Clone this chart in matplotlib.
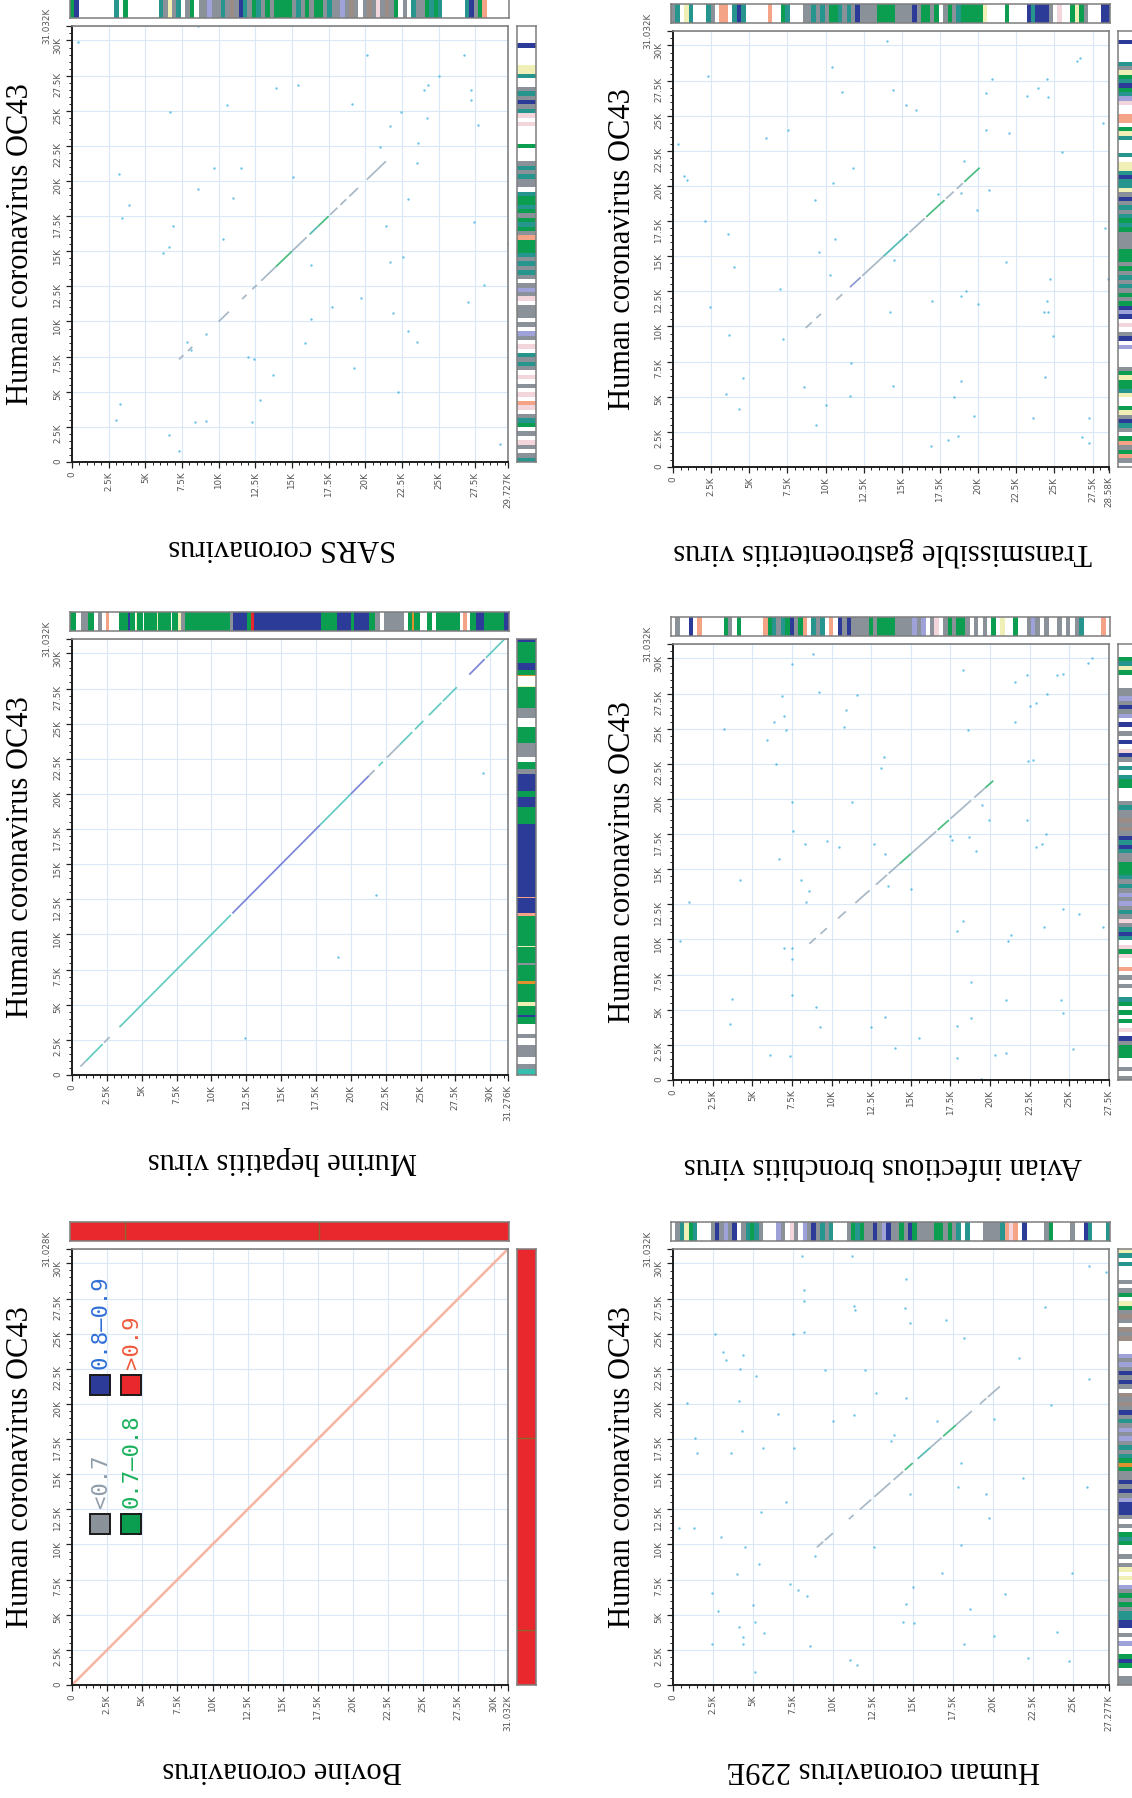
import matplotlib
matplotlib.use("Agg")
import matplotlib.pyplot as plt
from matplotlib.patches import Rectangle
from matplotlib.ticker import MultipleLocator, FixedLocator, FixedFormatter

FIG_W, FIG_H = 1132, 1798
BOX = 436  # plot square, px

# ---------------- data (all positions in K bases) ----------------
panel_names = ["SARS coronavirus", "Transmissible gastroenteritis virus",
               "Murine hepatitis virus", "Avian infectious bronchitis virus",
               "Bovine coronavirus", "Human coronavirus 229E"]
panel_xlen = [29.727, 28.58, 31.276, 27.5, 31.032, 27.277]
panel_ylen = [31.032, 31.032, 31.032, 31.032, 31.028, 31.032]
y_label = "Human coronavirus OC43"

# diagonal pieces: (start, end, colour) along x, y = x + offset
sars_diag = [(7.3, 7.6, 'G'), (7.9, 8.2, 'G'), (10.0, 10.7, 'G'), (11.6, 11.9, 'G'),
             (12.3, 12.6, 'G'), (12.9, 13.9, 'G'), (13.9, 15.0, 'g'), (15.0, 16.0, 'G'),
             (16.2, 16.8, 't'), (16.8, 17.5, 'g'), (17.6, 18.1, 'G'), (18.3, 18.7, 'G'),
             (18.9, 19.5, 'G'), (20.1, 20.6, 'G'), (20.6, 21.4, 'G')]
tgev_diag = [(8.7, 9.1, 'G'), (9.4, 9.7, 'G'), (10.7, 11.1, 'G'), (11.6, 12.3, 'b'),
             (12.4, 13.8, 'G'), (13.8, 15.4, 't'), (15.5, 16.5, 'G'), (16.6, 17.8, 'g'),
             (17.9, 18.4, 'G'), (18.6, 19.0, 'G'), (19.1, 20.1, 'g')]
murine_diag = [(0.6, 1.0, 'G'), (1.0, 2.2, 'c'), (2.3, 2.7, 'G'), (3.4, 11.4, 'c'),
               (11.5, 17.8, 'B'), (17.8, 20.0, 'c'), (20.0, 21.3, 'B'), (21.3, 21.7, 'G'),
               (22.0, 22.3, 'c'), (22.6, 23.5, 'G'), (23.5, 24.4, 'c'), (24.6, 25.2, 'c'),
               (25.6, 26.5, 'c'), (26.6, 27.6, 'c'), (28.5, 29.6, 'B'), (29.7, 31.1, 'c')]
avian_diag = [(8.6, 9.0, 'G'), (9.3, 9.7, 'G'), (10.4, 10.9, 'G'), (11.5, 12.4, 'G'),
              (12.8, 13.5, 'G'), (13.6, 14.3, 'G'), (14.3, 15.0, 'g'), (15.0, 16.6, 'G'),
              (16.7, 17.4, 'g'), (17.5, 18.8, 'G'), (19.0, 19.7, 'G'), (19.7, 20.2, 'g')]
bovine_diag = [(0.0, 31.03, 'R')]
hcov229e_diag = [(9.0, 9.4, 'G'), (9.5, 10.0, 'G'), (11.0, 11.3, 'G'), (11.7, 12.4, 'G'),
                 (12.6, 13.6, 'G'), (13.8, 14.4, 'G'), (14.5, 15.0, 'g'), (15.3, 16.1, 't'),
                 (16.1, 16.8, 'G'), (16.9, 17.7, 'g'), (17.7, 18.7, 'G'), (19.2, 19.6, 'G'),
                 (19.7, 20.45, 'G')]
diag_offset = [0.0, 1.2, 0.0, 1.1, 0.0, 0.8]

# scattered short matches (x, y)
sars_dots = [(0.42, 29.9), (8.56, 31.0), (20.1, 29.0), (26.7, 29.0), (27.2, 26.5), (27.2, 25.8),
             (13.9, 26.6), (15.4, 26.8), (10.6, 25.4), (6.7, 24.9), (19.1, 25.5), (22.4, 24.9),
             (24.2, 24.5), (27.7, 24.0), (21.7, 23.9), (21.0, 22.4), (23.6, 22.7), (23.5, 21.3),
             (9.7, 20.9), (11.5, 20.9), (15.1, 20.3), (3.2, 20.5), (8.6, 19.4), (11.0, 18.8),
             (3.9, 18.3), (3.4, 17.4), (22.9, 18.7), (6.9, 16.8), (21.4, 16.8), (27.4, 17.1),
             (10.3, 15.9), (6.6, 15.3), (6.2, 14.9), (29.7, 15.5), (21.7, 14.2), (22.6, 14.6),
             (16.3, 14.0), (28.1, 12.6), (27.0, 11.4), (19.7, 11.7), (17.7, 11.0), (21.9, 10.6),
             (16.3, 10.2), (9.15, 9.1), (22.9, 9.3), (23.5, 8.55), (7.85, 8.55), (8.1, 8.0),
             (15.9, 8.5), (12.0, 7.5), (12.4, 7.3), (19.2, 6.7), (13.7, 6.2), (22.2, 5.0),
             (3.25, 4.1), (12.8, 4.4), (2.97, 3.0), (8.4, 2.85), (9.15, 2.9), (12.3, 2.85),
             (6.6, 1.9), (7.3, 0.8), (29.2, 1.3), (24.0, 26.5), (24.3, 26.8), (25.0, 27.5)]
tgev_dots = [(14.0, 30.3), (10.4, 28.5), (26.5, 28.9), (26.7, 29.1), (2.3, 27.8), (20.9, 27.6),
             (11.1, 26.7), (14.4, 26.8), (20.5, 26.6), (23.9, 27.0), (24.5, 27.6), (23.2, 26.4),
             (24.6, 26.3), (15.3, 25.8), (15.9, 25.4), (6.1, 23.4), (7.55, 24.0), (20.5, 24.0),
             (22.0, 23.8), (28.2, 24.5), (0.34, 23.0), (25.5, 22.4), (11.8, 21.3), (19.1, 21.8),
             (0.75, 20.7), (0.93, 20.4), (10.5, 20.2), (20.7, 19.7), (18.9, 19.5), (9.3, 19.0),
             (17.4, 19.4), (19.9, 18.3), (2.1, 17.5), (3.6, 16.6), (28.3, 17.0), (10.6, 16.2),
             (9.6, 15.3), (14.5, 14.7), (4.0, 14.2), (21.8, 14.6), (10.3, 13.7), (28.5, 13.4),
             (24.7, 13.4), (7.0, 12.7), (19.2, 12.5), (18.9, 12.2), (17.0, 11.8), (20.0, 11.6),
             (24.5, 11.8), (2.45, 11.4), (14.2, 11.0), (24.3, 11.0), (24.6, 11.0), (3.7, 9.4),
             (7.2, 9.1), (24.9, 9.3), (11.7, 7.4), (24.4, 6.4), (4.6, 6.3), (18.9, 6.1),
             (8.6, 5.7), (14.4, 5.75), (3.5, 5.2), (11.6, 5.05), (18.4, 4.97), (10.0, 4.4),
             (4.3, 4.1), (19.75, 3.6), (23.6, 3.5), (27.3, 3.5), (9.4, 3.0), (18.05, 1.9),
             (18.7, 2.2), (16.9, 1.5), (26.8, 2.1), (27.3, 1.7)]
murine_dots = [(12.4, 2.6), (29.5, 21.5), (21.8, 12.8), (19.1, 8.4)]
avian_dots = [(8.8, 30.3), (26.2, 29.7), (26.4, 30.0), (7.5, 29.6), (18.3, 29.2), (22.3, 28.8),
              (21.6, 28.3), (24.2, 28.8), (24.6, 28.9), (9.2, 27.6), (11.6, 27.4), (6.9, 27.3),
              (23.6, 27.5), (10.9, 26.3), (22.5, 26.6), (22.9, 26.8), (7.0, 25.9), (6.4, 25.5),
              (3.2, 25.0), (7.15, 24.9), (10.8, 25.1), (21.6, 25.5), (18.6, 24.9), (5.9, 24.2),
              (6.5, 22.5), (13.3, 23.0), (13.1, 22.2), (22.4, 22.7), (22.7, 22.8), (7.5, 19.8),
              (11.3, 19.8), (19.5, 19.6), (19.9, 18.5), (22.3, 18.5), (7.6, 17.7), (17.5, 17.4),
              (17.6, 17.1), (18.7, 17.3), (23.5, 17.5), (8.3, 16.8), (9.7, 17.0), (10.5, 16.6),
              (12.7, 16.8), (22.9, 16.6), (23.3, 16.8), (19.1, 16.3), (13.4, 16.05), (6.7, 15.7),
              (4.2, 14.2), (8.1, 14.2), (8.6, 13.45), (8.4, 12.7), (13.55, 13.8), (15.0, 13.6),
              (1.0, 12.7), (24.6, 12.2), (25.6, 11.8), (18.3, 11.3), (17.9, 10.6), (23.4, 10.9),
              (27.1, 10.9), (21.3, 10.3), (21.1, 9.9), (0.44, 9.9), (7.0, 9.4), (7.5, 9.4),
              (7.5, 8.6), (18.8, 7.0), (7.5, 6.05), (3.7, 5.8), (21.0, 5.7), (24.5, 5.7),
              (9.0, 5.2), (24.6, 4.8), (13.4, 4.5), (3.6, 4.0), (18.8, 4.4), (17.9, 3.85),
              (9.3, 3.8), (12.5, 3.8), (15.5, 3.0), (14.0, 2.3), (6.1, 1.8), (7.4, 1.7),
              (20.3, 1.8), (21.0, 1.9), (17.9, 1.6), (25.2, 2.2), (19.4, 0.1)]
bovine_dots = []
hcov229e_dots = [(8.1, 30.5), (11.2, 30.55), (26.0, 29.8), (27.1, 29.4), (14.6, 28.9), (8.2, 28.1),
                 (8.2, 27.35), (11.3, 26.95), (11.4, 26.7), (14.5, 26.8), (23.3, 26.9), (17.1, 26.0),
                 (14.8, 25.8), (2.6, 25.0), (7.5, 25.0), (8.2, 25.1), (18.2, 24.7), (3.1, 23.7),
                 (3.3, 23.1), (4.35, 23.5), (21.65, 23.3), (4.2, 22.5), (9.5, 22.4), (12.0, 22.4),
                 (5.2, 22.0), (26.0, 21.8), (12.7, 20.8), (0.9, 20.1), (4.1, 20.2), (14.6, 20.4),
                 (6.6, 19.3), (11.3, 19.2), (23.65, 19.9), (10.0, 18.8), (16.5, 18.8), (20.1, 18.9),
                 (4.3, 18.1), (1.4, 17.6), (13.8, 17.8), (13.65, 17.4), (1.5, 16.5), (3.6, 16.5),
                 (5.6, 16.9), (7.6, 16.9), (18.0, 15.8), (21.9, 14.7), (17.8, 14.1), (25.9, 14.1),
                 (14.8, 13.6), (19.6, 13.6), (7.1, 13.0), (5.5, 12.3), (19.8, 11.9), (0.4, 11.2),
                 (1.3, 11.2), (3.0, 10.55), (18.0, 9.95), (12.6, 9.85), (4.5, 9.8), (8.9, 9.2),
                 (5.35, 8.6), (4.0, 7.9), (16.85, 8.0), (24.95, 8.0), (7.3, 7.2), (7.85, 6.75),
                 (15.0, 7.0), (8.4, 6.3), (2.45, 6.55), (20.8, 6.5), (5.0, 5.7), (2.8, 5.3),
                 (14.6, 5.8), (18.6, 5.4), (5.1, 4.5), (5.7, 3.7), (14.4, 4.5), (15.1, 4.4),
                 (4.15, 4.1), (4.4, 3.4), (4.4, 2.9), (20.1, 3.5), (24.0, 3.8), (2.45, 2.9),
                 (8.6, 2.75), (18.2, 2.9), (22.2, 1.95), (24.8, 1.7), (11.1, 1.8), (11.5, 1.45),
                 (5.1, 0.9)]

# identity bars, one colour code per 1/100 of the genome
# top bars left->right, side bars listed from the top (genome end) down
sars_top = "gBwwwwwwwwtwgwwwwwwwtGyGtwGgwGGbGGtGnGBtGgtGgGggggGtGgGggGtGGbGnGwGnGpGnGgwGwtGGgtgtwwwwwtBGgrwwwww"
sars_side = "wwwwBwwwwyytwwGtGBGtpwpwwwwgwwwGtGtGGwtggtgGgtgGrgggtGtGtGwGbGpwGGGwGwbGwpwtGtGwpwGwpwrpwGtgwGwpGwGt"
tgev_top = "GtwytwwwtGwrrwtBtwwwwwrwwgtwwwGGtGtGggtGtGBGGGGggggGGGGBGggGgwGgGtgggggywwwwgwwwwBtBBBGwpwwgygGwwwBB"
tgev_side = "wwBwwwwtGygtBgtbpwwrrwgytwwwtwyytBttyGBGtGtgtgGGGGgggGgGtGtGgGgBbBwpwGBwbwwwwGgyggtywwgyGBtGwgrGgrGw"
avian_top = "wGwwBwrwwwwwgGwgwwwwwrgtGtgBGgrwtGtwrwBGBGGGGgGggggGGGGbGbwGpwGgGggGwGwGwgwywwgwwGbGwGwwGwGwGtwwwwrw"
avian_side = "wwwgtygwwwGGbGBGbwBwGwBwpBGwtwtggwwwGtGGnGnGBtBtGGgggtGtGbGbGtGpGtBtwpgpwwrwGwGwwtgwgwgwpwBGgggwwGwG"
hcov229e_top = "wGtygtwwwGBGbGBwGtgtGwwwbGwpGwbGBGtGtwwwGgtgGGBGbBGGgGBgGGGGggGgGtwtwwwGGGGtrprwBwwwwGgwwwwGwwBtwwwt"
hcov229e_side = "ytwtwwwGwGgwygGnGwnGnwwwbGbGBGBGwnGnGBGtGbGbGtGtgogGGBGBGbBBBGwGwgtgwwGwGywywbGgGgGttBBwGwbwwgBgwwGG"
# Murine bars as (start, end, colour) segments
murine_top = [(0.0, 0.4, 'g'), (0.4, 0.8, 'w'), (0.8, 1.3, 'G'), (1.3, 1.7, 'g'), (1.7, 2.0, 'w'),
              (2.0, 2.3, 'G'), (2.3, 2.6, 'w'), (2.6, 2.8, 'r'), (2.8, 3.5, 'w'), (3.5, 4.1, 'g'),
              (4.1, 4.3, 'B'), (4.3, 4.6, 'g'), (4.6, 4.7, 'w'), (4.7, 4.8, 'y'), (4.8, 5.2, 'g'),
              (5.2, 5.3, 'w'), (5.3, 6.2, 'g'), (6.2, 6.3, 'y'), (6.3, 7.2, 'g'), (7.2, 7.3, 'w'),
              (7.3, 7.7, 'g'), (7.7, 7.9, 'y'), (7.9, 8.2, 'G'), (8.2, 11.4, 'g'), (11.4, 11.6, 'G'),
              (11.6, 12.6, 'B'), (12.6, 12.9, 'g'), (12.9, 13.1, 'R'), (13.1, 17.9, 'B'),
              (17.9, 19.0, 'g'), (19.0, 20.0, 'B'), (20.0, 20.2, 'g'), (20.2, 21.3, 'B'),
              (21.3, 21.7, 'g'), (21.7, 22.1, 'G'), (22.1, 22.4, 'w'), (22.4, 23.8, 'G'),
              (23.8, 24.1, 'w'), (24.1, 24.4, 'g'), (24.4, 24.5, 'o'), (24.5, 24.9, 'g'),
              (24.9, 25.4, 'w'), (25.4, 25.8, 'g'), (25.8, 26.1, 'w'), (26.1, 27.8, 'g'),
              (27.8, 28.0, 'w'), (28.0, 28.3, 'r'), (28.3, 28.5, 'w'), (28.5, 28.9, 'g'),
              (28.9, 29.5, 'B'), (29.5, 30.9, 'g'), (30.9, 31.276, 'B')]
murine_side = [(0.0, 0.4, 'c'), (0.4, 0.8, 'G'), (0.8, 1.3, 'w'), (1.3, 2.1, 'G'), (2.1, 2.6, 'w'),
               (2.6, 2.9, 'G'), (2.9, 3.6, 'w'), (3.6, 4.1, 'g'), (4.1, 4.3, 'B'), (4.3, 4.9, 'g'),
               (4.9, 5.2, 'y'), (5.2, 6.5, 'g'), (6.5, 6.7, 'o'), (6.7, 7.8, 'g'), (7.8, 8.0, 'G'),
               (8.0, 9.1, 'g'), (9.1, 9.2, 'y'), (9.2, 11.3, 'g'), (11.3, 11.5, 'r'),
               (11.5, 12.6, 'B'), (12.6, 12.7, 'r'), (12.7, 17.9, 'B'), (17.9, 19.1, 'g'),
               (19.1, 19.8, 'B'), (19.8, 20.2, 'g'), (20.2, 21.4, 'B'), (21.4, 21.8, 'G'),
               (21.8, 22.3, 'g'), (22.3, 22.6, 'w'), (22.6, 23.6, 'G'), (23.6, 24.8, 'g'),
               (24.8, 25.4, 'w'), (25.4, 26.1, 'G'), (26.1, 27.6, 'g'), (27.6, 27.7, 'y'),
               (27.7, 28.4, 'w'), (28.4, 28.5, 'o'), (28.5, 28.8, 'g'), (28.8, 29.35, 'B'),
               (29.35, 30.8, 'g'), (30.8, 31.032, 'B')]
bovine_top = [(0.0, 31.032, 'R')]
bovine_side = [(0.0, 31.028, 'R')]
bovine_breaks = [3.88, 17.6]

legend_labels = ["<0.7", "0.7\u20130.8", "0.8\u20130.9", ">0.9"]

BAR_COL = {'w': '#ffffff', 'G': '#8a9199', 'g': '#0c9e50', 't': '#26958e', 'B': '#2c3a98',
           'b': '#9fa2d8', 'r': '#f4a386', 'y': '#efefb6', 'o': '#e0902c', 'p': '#f3d5dc',
           'n': '#9b8d86', 'R': '#e8282c', 'c': '#36bfae'}
DIAG_COL = {'G': '#9aacbc', 'g': '#2ab26a', 't': '#38aeaa', 'b': '#7886c8', 'c': '#48c4b8',
            'B': '#6670d2', 'R': '#f7ab95'}
DOT_COL = '#3aaee0'

diags = [sars_diag, tgev_diag, murine_diag, avian_diag, bovine_diag, hcov229e_diag]
dots = [sars_dots, tgev_dots, murine_dots, avian_dots, bovine_dots, hcov229e_dots]
tops = [sars_top, tgev_top, murine_top, avian_top, bovine_top, hcov229e_top]
sides = [sars_side, tgev_side, murine_side, avian_side, bovine_side, hcov229e_side]

# layout in px: plot left edge per column, plot top per panel
col_left = [72, 673]
panel_top = [26, 31, 639, 644, 1249, 1249]


def fig_rect(x, y, w, h):
    # px box (top-left origin) -> figure fraction
    return [x / FIG_W, 1 - (y + h) / FIG_H, w / FIG_W, h / FIG_H]


def kfmt(v):
    return "0" if v == 0 else f"{v:g}K"


def as_segments(spec, length, from_top=False):
    if isinstance(spec, str):
        n = len(spec)
        w = length / n
        segs = []
        for i, c in enumerate(spec):
            s = length - (i + 1) * w if from_top else i * w
            segs.append((s, s + w, c))
        return segs
    return spec


def draw_bar(ax, spec, length, vertical):
    segs = as_segments(spec, length, from_top=vertical)
    starts = [s for s, e, c in segs]
    sizes = [e - s for s, e, c in segs]
    cols = [BAR_COL[c] for s, e, c in segs]
    if vertical:
        ax.barh(starts, [1] * len(segs), height=sizes, left=0, align='edge', color=cols, linewidth=0)
        ax.set_xlim(0, 1)
        ax.set_ylim(0, length)
    else:
        ax.bar(starts, [1] * len(segs), width=sizes, bottom=0, align='edge', color=cols, linewidth=0)
        ax.set_xlim(0, length)
        ax.set_ylim(0, 1)
    ax.set_xticks([])
    ax.set_yticks([])
    for sp in ax.spines.values():
        sp.set_color('#7d7d7d')
        sp.set_linewidth(1.1)


fig = plt.figure(figsize=(FIG_W / 100, FIG_H / 100), dpi=100)

for i in range(6):
    col = i % 2
    x0 = col_left[col]
    y0 = panel_top[i]
    xl, yl = panel_xlen[i], panel_ylen[i]

    ax = fig.add_axes(fig_rect(x0, y0, BOX, BOX))
    ax.set_xlim(0, xl)
    ax.set_ylim(0, yl)

    xt = [k * 2.5 for k in range(int(xl / 2.5 + 1e-9) + 1)]
    if xl - xt[-1] > 1e-6:
        xt.append(xl)
    yt = [k * 2.5 for k in range(int(yl / 2.5 + 1e-9) + 1)]
    ax.xaxis.set_major_locator(FixedLocator(xt))
    ax.xaxis.set_major_formatter(FixedFormatter([kfmt(v) for v in xt]))
    ax.yaxis.set_major_locator(FixedLocator(yt + [yl]))
    ax.yaxis.set_major_formatter(FixedFormatter([kfmt(v) for v in yt] + [""]))
    ax.xaxis.set_minor_locator(MultipleLocator(0.5))
    ax.yaxis.set_minor_locator(MultipleLocator(0.5))
    ax.tick_params(which='major', direction='out', length=4.5, width=0.9, color='#222',
                   labelsize=6.3, labelcolor='#555', pad=2.5)
    ax.tick_params(which='minor', direction='out', length=2.3, width=0.7, color='#222')
    ax.tick_params(axis='x', labelrotation=90)
    ax.tick_params(axis='y', labelrotation=90)
    ax.grid(True, which='major', color='#d8e8f6', linewidth=0.8)
    ax.set_axisbelow(True)
    for side in ['left', 'bottom']:
        ax.spines[side].set_color('#1e1e1e')
        ax.spines[side].set_linewidth(1.4)
    for side in ['top', 'right']:
        ax.spines[side].set_color('#808080')
        ax.spines[side].set_linewidth(1.2)

    # top label of the vertical genome, pushed out to clear the 30K label
    ax.annotate(kfmt(yl), xy=(0, yl), xycoords='data', xytext=(-15, 0),
                textcoords='offset points', rotation=90, ha='right', va='center',
                fontsize=6.3, color='#555', annotation_clip=False)

    off = diag_offset[i]
    lw = 1.9 if i == 4 else 1.25
    for s, e, c in diags[i]:
        ax.plot([s, e], [s + off, e + off], color=DIAG_COL[c], linewidth=lw,
                solid_capstyle='butt', alpha=0.85)
    if dots[i]:
        ax.scatter([p[0] for p in dots[i]], [p[1] for p in dots[i]], s=3,
                   color=DOT_COL, linewidths=0, alpha=0.75)

    fig.text((x0 - 51) / FIG_W, 1 - (y0 + BOX / 2) / FIG_H, y_label, rotation=90,
             ha='center', va='center', family='Liberation Serif', fontsize=22)
    fig.text((x0 + BOX / 2 - 8) / FIG_W, 1 - (y0 + BOX + 85) / FIG_H, panel_names[i],
             rotation=180, ha='center', va='center', family='Liberation Serif', fontsize=22)

    # identity bars
    axt = fig.add_axes(fig_rect(x0 - 2, y0 - 27, BOX + 3, 19))
    draw_bar(axt, tops[i], xl, vertical=False)
    axs = fig.add_axes(fig_rect(x0 + BOX + 9, y0, 19, BOX))
    draw_bar(axs, sides[i], yl, vertical=True)
    if i == 4:
        for b in bovine_breaks:
            axt.axvline(b, color='#8a6a30', linewidth=1.0)
            axs.axhline(b, color='#8a6a30', linewidth=1.0)

        # legend inside the Bovine panel
        sq_cols = [BAR_COL['G'], BAR_COL['g'], BAR_COL['B'], BAR_COL['R']]
        txt_cols = ['#8f9daa', '#1bb15c', '#2f6fd6', '#f05a3c']
        sq_x = [17.8, 48.8, 17.8, 48.8]
        sq_y = [265, 265, 126, 126]  # px from plot top (square top edge)
        for k in range(4):
            ax.add_patch(Rectangle((sq_x[k] / BOX, 1 - (sq_y[k] + 20) / BOX), 20 / BOX, 20 / BOX,
                                   transform=ax.transAxes, facecolor=sq_cols[k],
                                   edgecolor='#1a1a1a', linewidth=1.4, zorder=5))
            ax.text((sq_x[k] + 11) / BOX, 1 - (sq_y[k] - 6) / BOX, legend_labels[k],
                    transform=ax.transAxes, rotation=90, ha='center', va='bottom',
                    family='DejaVu Sans Mono', fontsize=16, color=txt_cols[k], zorder=5)

fig.savefig("out.png", dpi=100)
